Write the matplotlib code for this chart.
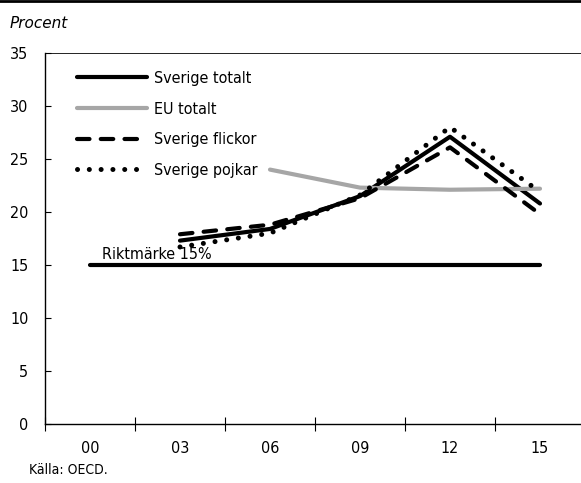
import matplotlib
matplotlib.use("Agg")
import matplotlib.pyplot as plt
from matplotlib.lines import Line2D
import numpy as np

plt.rcParams["font.family"] = ["DejaVu Sans"]
plt.rcParams["font.stretch"] = "condensed"

# data (percent)
years = ["00", "03", "06", "09", "12", "15"]
sverige_totalt = [np.nan, 17.3, 18.4, 21.5, 27.1, 20.8]
eu_totalt = [np.nan, np.nan, 24.0, 22.3, 22.1, 22.2]
sverige_flickor = [np.nan, 17.9, 18.8, 21.3, 26.1, 19.8]
sverige_pojkar = [np.nan, 16.7, 18.0, 21.6, 28.0, 21.9]
riktmarke = [15, 15, 15, 15, 15, 15]
yticks = [0, 5, 10, 15, 20, 25, 30, 35]

W, H = 581, 483
FS = 11.5
fig = plt.figure(figsize=(W / 100, H / 100), dpi=100)
ax = fig.add_axes([45 / W, 1 - 424 / H, (W - 45) / W, (424 - 53) / H])

x = np.arange(len(years))
LW = 3.0
ax.plot(x, riktmarke, color="black", lw=LW, solid_capstyle="round")
l1, = ax.plot(x, sverige_totalt, color="black", lw=LW, solid_capstyle="round",
              label="Sverige totalt")
l2, = ax.plot(x, eu_totalt, color="#a6a6a6", lw=LW, solid_capstyle="round",
              label="EU totalt")
l3, = ax.plot(x, sverige_flickor, color="black", lw=LW, dash_capstyle="round",
              dashes=(3.0, 2.7), label="Sverige flickor")
l4, = ax.plot(x, sverige_pojkar, color="black", lw=3.6, dash_capstyle="round",
              dashes=(0.01, 2.35), label="Sverige pojkar")

ax.text(0.13, 15.25, "Riktmärke 15%", fontsize=FS, ha="left", va="bottom")

ax.set_xlim(-0.5, (W - 90) / 90)
ax.set_ylim(0, 35)
ax.set_yticks(yticks)
ax.tick_params(axis="y", direction="in", length=4, width=0.8, pad=12, labelsize=FS)

ax.set_xticks(x)
ax.set_xticklabels(years)
ax.set_xticks(np.arange(-0.5, len(years) - 0.5, 1.0), minor=True)
ax.tick_params(axis="x", which="major", length=0, pad=12, labelsize=FS)
ax.tick_params(axis="x", which="minor", direction="inout", length=10, width=0.8)

ax.spines["right"].set_visible(False)
ax.spines["top"].set_linewidth(0.6)
for s in ("left", "bottom"):
    ax.spines[s].set_linewidth(1.0)

ax.legend(handles=[l1, l2, l3, l4], loc="upper left", frameon=False,
          bbox_to_anchor=(77 / W, 1 - 71 / H), bbox_transform=fig.transFigure,
          borderaxespad=0, borderpad=0, handlelength=4.4, handletextpad=0.45,
          labelspacing=0.98, fontsize=FS)

fig.text(10 / W, 1 - 24 / H, "Procent", fontsize=11, style="italic",
         stretch="normal", va="center", ha="left")
fig.text(29 / W, 1 - 470 / H, "Källa: OECD.", fontsize=10, va="center", ha="left")
fig.add_artist(Line2D([0, 1], [1 - 1 / H, 1 - 1 / H], color="black", lw=2,
                      transform=fig.transFigure))

fig.savefig("out.png", dpi=100)
